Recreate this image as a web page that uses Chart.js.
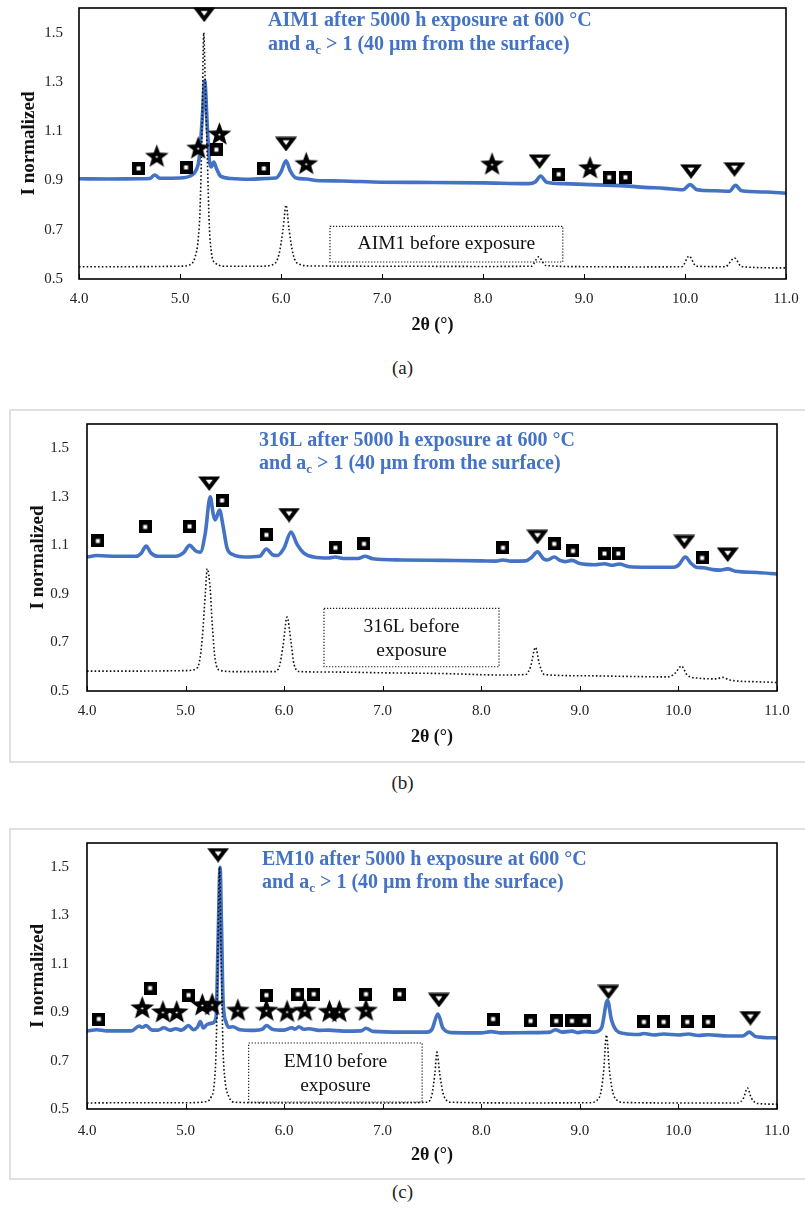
<!DOCTYPE html>
<html>
<head>
<meta charset="utf-8">
<script src="https://cdn.jsdelivr.net/npm/chart.js@4.4.1/dist/chart.umd.min.js"></script>
<style>
  body { margin: 0; background: #fff; width: 805px; height: 1216px; position: relative; overflow: hidden; }
  canvas { position: absolute; left: 0; }
  .frame { position: absolute; left: 9px; width: 794px; border: 2px solid #e0e0e0; }
  .cap { position: absolute; left: 0; width: 805px; text-align: center; font: 19px "Liberation Serif", serif; color: #222; line-height: 22px; }
</style>
</head>
<body>
<div class="frame" style="top:409px;height:350px"></div>
<div class="frame" style="top:828px;height:348px"></div>
<canvas id="chartA" width="805" height="339" style="top:0px"></canvas>
<canvas id="chartB" width="805" height="339" style="top:412px"></canvas>
<canvas id="chartC" width="805" height="338" style="top:831px"></canvas>
<div class="cap" style="top:357px">(a)</div>
<div class="cap" style="top:772px">(b)</div>
<div class="cap" style="top:1181px">(c)</div>
<script>
const BLUE = '#4472C4';
const SERIF = '"Liberation Serif", "Times New Roman", serif';

// axis ticks
const xTickValues = [4, 5, 6, 7, 8, 9, 10, 11];
const yTickValues = [0.5, 0.7, 0.9, 1.1, 1.3, 1.5];

// (a) AIM1
const aimAfterX = [4.00, 4.30, 4.60, 4.70, 4.75, 4.80, 5.00, 5.10, 5.15, 5.19, 5.22, 5.245, 5.27, 5.29, 5.31, 5.335, 5.36, 5.40, 5.50, 5.70, 5.85, 5.95, 6.00, 6.05, 6.09, 6.15, 6.25, 6.35, 6.60, 7.00, 7.50, 8.00, 8.45, 8.52, 8.57, 8.63, 8.80, 9.00, 9.40, 9.60, 9.80, 9.98, 10.05, 10.12, 10.30, 10.44, 10.50, 10.56, 10.80, 11.00];
const aimAfterY = [0.907, 0.906, 0.907, 0.908, 0.922, 0.909, 0.910, 0.918, 0.935, 0.990, 1.150, 1.305, 1.120, 0.985, 0.955, 0.975, 0.950, 0.918, 0.908, 0.905, 0.908, 0.910, 0.935, 0.980, 0.940, 0.910, 0.906, 0.900, 0.898, 0.893, 0.892, 0.890, 0.887, 0.895, 0.918, 0.893, 0.887, 0.884, 0.878, 0.872, 0.868, 0.862, 0.883, 0.862, 0.858, 0.856, 0.880, 0.858, 0.853, 0.848];
const aimBeforeX = [4.00, 4.50, 5.00, 5.10, 5.15, 5.18, 5.20, 5.22, 5.235, 5.25, 5.27, 5.29, 5.31, 5.35, 5.45, 5.80, 5.93, 5.98, 6.02, 6.05, 6.08, 6.12, 6.17, 6.30, 7.00, 8.00, 8.48, 8.55, 8.62, 9.00, 9.50, 9.97, 10.04, 10.11, 10.40, 10.49, 10.56, 11.00];
const aimBeforeY = [0.550, 0.550, 0.552, 0.558, 0.590, 0.660, 0.800, 1.150, 1.500, 1.300, 1.000, 0.720, 0.610, 0.565, 0.552, 0.552, 0.560, 0.600, 0.700, 0.800, 0.700, 0.600, 0.562, 0.553, 0.552, 0.551, 0.552, 0.590, 0.555, 0.550, 0.549, 0.550, 0.593, 0.552, 0.550, 0.585, 0.550, 0.545];
const aimSquares = [[4.59, 0.949], [5.06, 0.953], [5.36, 1.025], [5.83, 0.949], [8.75, 0.925], [9.25, 0.913], [9.41, 0.913]];
const aimStars = [[4.77, 1.0], [5.18, 1.033], [5.39, 1.09], [6.25, 0.97], [8.09, 0.968], [9.06, 0.953]];
const aimTriangles = [[5.24, 1.573], [6.05, 1.048], [8.56, 0.977], [10.06, 0.937], [10.49, 0.945]];

// (b) 316L
const ssAfterX = [4.00, 4.10, 4.30, 4.50, 4.55, 4.60, 4.65, 4.72, 4.90, 4.98, 5.04, 5.10, 5.15, 5.20, 5.25, 5.28, 5.30, 5.345, 5.38, 5.42, 5.48, 5.60, 5.75, 5.82, 5.88, 5.93, 6.00, 6.07, 6.13, 6.20, 6.30, 6.45, 6.52, 6.60, 6.75, 6.82, 6.90, 7.20, 7.60, 8.00, 8.15, 8.22, 8.30, 8.45, 8.51, 8.57, 8.63, 8.67, 8.74, 8.80, 8.85, 8.92, 9.00, 9.15, 9.25, 9.32, 9.40, 9.50, 9.70, 9.95, 10.00, 10.07, 10.13, 10.18, 10.25, 10.35, 10.42, 10.50, 10.58, 10.80, 11.00];
const ssAfterY = [1.052, 1.058, 1.055, 1.055, 1.068, 1.097, 1.068, 1.055, 1.055, 1.070, 1.100, 1.078, 1.072, 1.150, 1.300, 1.230, 1.205, 1.245, 1.180, 1.090, 1.062, 1.052, 1.055, 1.085, 1.062, 1.058, 1.090, 1.155, 1.105, 1.068, 1.052, 1.048, 1.052, 1.046, 1.046, 1.055, 1.045, 1.040, 1.038, 1.036, 1.035, 1.040, 1.035, 1.036, 1.050, 1.073, 1.045, 1.040, 1.052, 1.038, 1.033, 1.038, 1.025, 1.020, 1.024, 1.018, 1.023, 1.012, 1.010, 1.010, 1.018, 1.052, 1.025, 1.010, 1.008, 1.000, 0.998, 1.003, 0.993, 0.988, 0.982];
const ssBeforeX = [4.00, 4.50, 5.00, 5.10, 5.14, 5.17, 5.20, 5.22, 5.25, 5.27, 5.30, 5.35, 5.50, 5.90, 5.95, 5.99, 6.03, 6.07, 6.10, 6.16, 6.50, 7.00, 7.60, 8.20, 8.45, 8.50, 8.55, 8.59, 8.64, 9.00, 9.50, 9.90, 9.97, 10.03, 10.09, 10.20, 10.38, 10.45, 10.52, 10.80, 11.00];
const ssBeforeY = [0.582, 0.582, 0.584, 0.590, 0.620, 0.720, 0.900, 1.003, 0.920, 0.780, 0.630, 0.585, 0.580, 0.580, 0.600, 0.690, 0.805, 0.700, 0.610, 0.580, 0.578, 0.575, 0.572, 0.566, 0.568, 0.600, 0.680, 0.610, 0.568, 0.563, 0.560, 0.558, 0.575, 0.603, 0.565, 0.553, 0.550, 0.556, 0.545, 0.538, 0.535];
const ssSquares = [[4.11, 1.118], [4.59, 1.176], [5.04, 1.178], [5.37, 1.285], [5.82, 1.143], [6.52, 1.09], [6.81, 1.106], [8.22, 1.09], [8.74, 1.106], [8.93, 1.077], [9.25, 1.066], [9.39, 1.066], [10.24, 1.048]];
const ssStars = [];
const ssTriangles = [[5.24, 1.355], [6.05, 1.225], [8.57, 1.135], [10.06, 1.114], [10.50, 1.062]];

// (c) EM10
const emAfterX = [4.00, 4.10, 4.20, 4.45, 4.53, 4.56, 4.60, 4.66, 4.72, 4.78, 4.84, 4.90, 4.96, 5.03, 5.08, 5.12, 5.15, 5.18, 5.22, 5.27, 5.31, 5.33, 5.35, 5.365, 5.38, 5.41, 5.44, 5.48, 5.55, 5.70, 5.78, 5.82, 5.88, 6.00, 6.08, 6.11, 6.15, 6.20, 6.25, 6.35, 6.45, 6.60, 6.78, 6.83, 6.90, 7.20, 7.45, 7.50, 7.56, 7.61, 7.70, 8.00, 8.10, 8.20, 8.50, 8.70, 8.75, 8.82, 8.92, 8.98, 9.05, 9.15, 9.22, 9.28, 9.32, 9.37, 9.45, 9.60, 9.65, 9.75, 9.85, 10.00, 10.10, 10.20, 10.30, 10.50, 10.65, 10.72, 10.78, 11.00];
const emAfterY = [0.822, 0.828, 0.823, 0.823, 0.843, 0.838, 0.845, 0.826, 0.826, 0.836, 0.826, 0.832, 0.826, 0.845, 0.828, 0.838, 0.862, 0.835, 0.850, 0.855, 0.880, 1.200, 1.500, 1.250, 0.950, 0.860, 0.838, 0.840, 0.828, 0.825, 0.830, 0.845, 0.830, 0.826, 0.836, 0.830, 0.840, 0.830, 0.832, 0.825, 0.826, 0.822, 0.823, 0.834, 0.821, 0.818, 0.818, 0.830, 0.893, 0.835, 0.816, 0.815, 0.820, 0.815, 0.816, 0.818, 0.828, 0.818, 0.822, 0.816, 0.820, 0.818, 0.835, 0.950, 0.870, 0.825, 0.812, 0.808, 0.812, 0.806, 0.810, 0.806, 0.810, 0.804, 0.807, 0.802, 0.802, 0.818, 0.800, 0.794];
const emBeforeX = [4.00, 4.50, 5.00, 5.20, 5.26, 5.29, 5.31, 5.33, 5.345, 5.36, 5.38, 5.40, 5.44, 5.50, 6.00, 7.00, 7.45, 7.50, 7.53, 7.55, 7.58, 7.62, 7.70, 8.50, 9.10, 9.20, 9.24, 9.27, 9.30, 9.35, 9.45, 10.00, 10.60, 10.66, 10.70, 10.74, 10.80, 11.00];
const emBeforeY = [0.525, 0.526, 0.526, 0.530, 0.550, 0.600, 0.750, 1.200, 1.500, 1.150, 0.750, 0.620, 0.550, 0.528, 0.525, 0.525, 0.528, 0.560, 0.650, 0.735, 0.640, 0.555, 0.528, 0.525, 0.526, 0.550, 0.650, 0.806, 0.660, 0.550, 0.527, 0.525, 0.525, 0.545, 0.587, 0.545, 0.523, 0.520];
const emSquares = [[4.12, 0.872], [4.64, 1.0], [5.03, 0.971], [5.82, 0.971], [6.14, 0.975], [6.30, 0.975], [6.83, 0.975], [7.17, 0.975], [8.12, 0.872], [8.50, 0.864], [8.76, 0.864], [8.92, 0.864], [9.05, 0.864], [9.65, 0.860], [9.85, 0.860], [10.09, 0.860], [10.30, 0.860]];
const emStars = [[4.56, 0.92], [4.77, 0.903], [4.91, 0.903], [5.17, 0.932], [5.27, 0.934], [5.53, 0.91], [5.82, 0.91], [6.03, 0.905], [6.21, 0.91], [6.46, 0.905], [6.56, 0.905], [6.83, 0.91]];
const emTriangles = [[5.33, 1.55], [7.57, 0.951], [9.29, 0.984], [10.73, 0.876]];

// texts
const panelTexts = {
  chartA: { title: 'AIM1 after 5000 h exposure at 600 °C', titleAt: [5.871, 1.547, 1.450], box: [6.485, 8.79, 0.569, 0.714], boxLines: ['AIM1 before exposure'], boxLineY: [0.641] },
  chartB: { title: '316L after 5000 h exposure at 600 °C', titleAt: [5.745, 1.530, 1.435], box: [6.404, 8.18, 0.600, 0.840], boxLines: ['316L before', 'exposure'], boxLineY: [0.764, 0.665] },
  chartC: { title: 'EM10 after 5000 h exposure at 600 °C', titleAt: [5.775, 1.530, 1.435], box: [5.64, 7.40, 0.529, 0.773], boxLines: ['EM10 before', 'exposure'], boxLineY: [0.694, 0.595] }
};

function makeMark(kind) {
  const c = document.createElement('canvas');
  const g = c.getContext('2d');
  g.fillStyle = '#000';
  if (kind === 'square') {
    c.width = 13; c.height = 13;
    g.fillRect(0, 0, 13, 13);
    g.fillStyle = '#fff';
    g.fillRect(4.5, 4.5, 4, 4);
  } else if (kind === 'tri') {
    c.width = 22; c.height = 15;
    g.beginPath(); g.moveTo(0, 0.5); g.lineTo(22, 0.5); g.lineTo(11, 15); g.closePath(); g.fill();
    g.fillStyle = '#fff';
    g.beginPath(); g.moveTo(7.5, 3.8); g.lineTo(14.5, 3.8); g.lineTo(11, 8.5); g.closePath(); g.fill();
  } else {
    c.width = 25; c.height = 25;
    g.beginPath();
    for (let i = 0; i < 10; i++) {
      const r = i % 2 ? 5.2 : 12.5;
      const a = -Math.PI / 2 + i * Math.PI / 5;
      g.lineTo(12.5 + r * Math.cos(a), 13.5 + r * Math.sin(a));
    }
    g.closePath(); g.fill();
    g.fillStyle = '#fff';
    g.beginPath(); g.arc(12.5, 13.5, 1.1, 0, 2 * Math.PI); g.fill();
  }
  return c;
}
const squareImg = makeMark('square');
const triImg = makeMark('tri');
const starImg = makeMark('star');

const pts = (xs, ys) => xs.map((x, i) => ({ x: x, y: ys[i] }));
const marks = arr => arr.map(p => ({ x: p[0], y: p[1] }));

const framePlugin = {
  id: 'frameNotes',
  beforeDatasetsDraw(chart) {
    const t = panelTexts[chart.canvas.id];
    const ctx = chart.ctx, xs = chart.scales.x, ys = chart.scales.y;
    const x0 = xs.getPixelForValue(t.box[0]), x1 = xs.getPixelForValue(t.box[1]);
    const y0 = ys.getPixelForValue(t.box[3]), y1 = ys.getPixelForValue(t.box[2]);
    ctx.save();
    ctx.strokeStyle = '#222';
    ctx.lineWidth = 1.2;
    ctx.setLineDash([1.3, 1.7]);
    ctx.strokeRect(x0, y0, x1 - x0, y1 - y0);
    ctx.setLineDash([]);
    ctx.fillStyle = '#111';
    ctx.font = '19.5px ' + SERIF;
    ctx.textAlign = 'center';
    ctx.textBaseline = 'middle';
    t.boxLines.forEach((s, i) => ctx.fillText(s, (x0 + x1) / 2, ys.getPixelForValue(t.boxLineY[i])));
    ctx.restore();
  },
  afterDatasetsDraw(chart) {
    const t = panelTexts[chart.canvas.id];
    const ctx = chart.ctx, a = chart.chartArea, xs = chart.scales.x, ys = chart.scales.y;
    ctx.save();
    // plot frame and inward ticks
    ctx.strokeStyle = '#000';
    ctx.lineWidth = 1.6;
    ctx.strokeRect(a.left, a.top, a.right - a.left, a.bottom - a.top);
    ctx.lineWidth = 1;
    xTickValues.forEach(v => {
      const px = Math.round(xs.getPixelForValue(v)) + 0.5;
      ctx.beginPath(); ctx.moveTo(px, a.bottom); ctx.lineTo(px, a.bottom - 5); ctx.stroke();
    });
    // blue label
    const lx = xs.getPixelForValue(t.titleAt[0]);
    ctx.fillStyle = BLUE;
    ctx.textBaseline = 'middle';
    ctx.textAlign = 'left';
    const big = 'bold 20px ' + SERIF, small = 'bold 13px ' + SERIF;
    ctx.font = big;
    ctx.fillText(t.title, lx, ys.getPixelForValue(t.titleAt[1]));
    const y2 = ys.getPixelForValue(t.titleAt[2]);
    let cx = lx;
    ctx.fillText('and a', cx, y2); cx += ctx.measureText('and a').width;
    ctx.font = small;
    ctx.fillText('c', cx, y2 + 6); cx += ctx.measureText('c').width;
    ctx.font = big;
    ctx.fillText(' > 1 (40 µm from the surface)', cx, y2);
    ctx.restore();
  }
};

function makePanel(id, cfg) {
  new Chart(document.getElementById(id), {
    type: 'line',
    data: {
      datasets: [
        { data: marks(cfg.squares), showLine: false, pointStyle: squareImg, pointRadius: 7, clip: false, order: 0 },
        { data: marks(cfg.stars), showLine: false, pointStyle: starImg, pointRadius: 7, clip: false, order: 0 },
        { data: marks(cfg.triangles), showLine: false, pointStyle: triImg, pointRadius: 7, clip: false, order: 0 },
        { data: pts(cfg.beforeX, cfg.beforeY), borderColor: '#111', borderWidth: 1.6, borderDash: [1.6, 2.2],
          pointRadius: 0, cubicInterpolationMode: 'monotone', order: 1 },
        { data: pts(cfg.afterX, cfg.afterY), borderColor: BLUE, borderWidth: 3.6,
          pointRadius: 0, cubicInterpolationMode: 'monotone', order: 2 }
      ]
    },
    options: {
      responsive: false,
      animation: false,
      events: [],
      layout: { padding: { left: 0, right: 805 - cfg.right, top: cfg.top, bottom: 0 } },
      plugins: { legend: { display: false }, tooltip: { enabled: false } },
      scales: {
        x: {
          type: 'linear', min: 4, max: 11,
          afterBuildTicks: s => { s.ticks = xTickValues.map(v => ({ value: v })); },
          afterFit: s => { s.height = 60; s.paddingLeft = 0; s.paddingRight = 0; },
          grid: { display: false, drawTicks: false },
          border: { display: false },
          ticks: { padding: cfg.xPad, color: '#222', autoSkip: false, maxRotation: 0,
                   font: { family: SERIF, size: 15 }, callback: v => v.toFixed(1) },
          title: { display: true, text: '2θ (°)', color: '#111', padding: { top: 0, bottom: 3 },
                   font: { family: SERIF, size: 18, weight: 'bold' } }
        },
        y: {
          min: 0.5, max: 1.6,
          afterBuildTicks: s => { s.ticks = yTickValues.map(v => ({ value: v })); },
          afterFit: s => { s.width = cfg.left; s.paddingTop = 0; s.paddingBottom = 0; },
          grid: { display: false, drawTicks: false },
          border: { display: false },
          ticks: { padding: cfg.yPad, color: '#222', font: { family: SERIF, size: 15 }, callback: v => v.toFixed(1) },
          title: { display: true, text: 'I normalized', color: '#111', padding: { top: cfg.yTitlePad, bottom: 0 },
                   font: { family: SERIF, size: 19, weight: 'bold' } }
        }
      }
    },
    plugins: [framePlugin]
  });
}

makePanel('chartA', { left: 79, right: 786, top: 7, xPad: 11, yPad: 16, yTitlePad: 17.6,
  afterX: aimAfterX, afterY: aimAfterY, beforeX: aimBeforeX, beforeY: aimBeforeY,
  squares: aimSquares, stars: aimStars, triangles: aimTriangles });
makePanel('chartB', { left: 87, right: 777, top: 12, xPad: 11, yPad: 18, yTitlePad: 27,
  afterX: ssAfterX, afterY: ssAfterY, beforeX: ssBeforeX, beforeY: ssBeforeY,
  squares: ssSquares, stars: ssStars, triangles: ssTriangles });
makePanel('chartC', { left: 87, right: 777, top: 12, xPad: 13, yPad: 18, yTitlePad: 27,
  afterX: emAfterX, afterY: emAfterY, beforeX: emBeforeX, beforeY: emBeforeY,
  squares: emSquares, stars: emStars, triangles: emTriangles });
</script>
</body>
</html>
